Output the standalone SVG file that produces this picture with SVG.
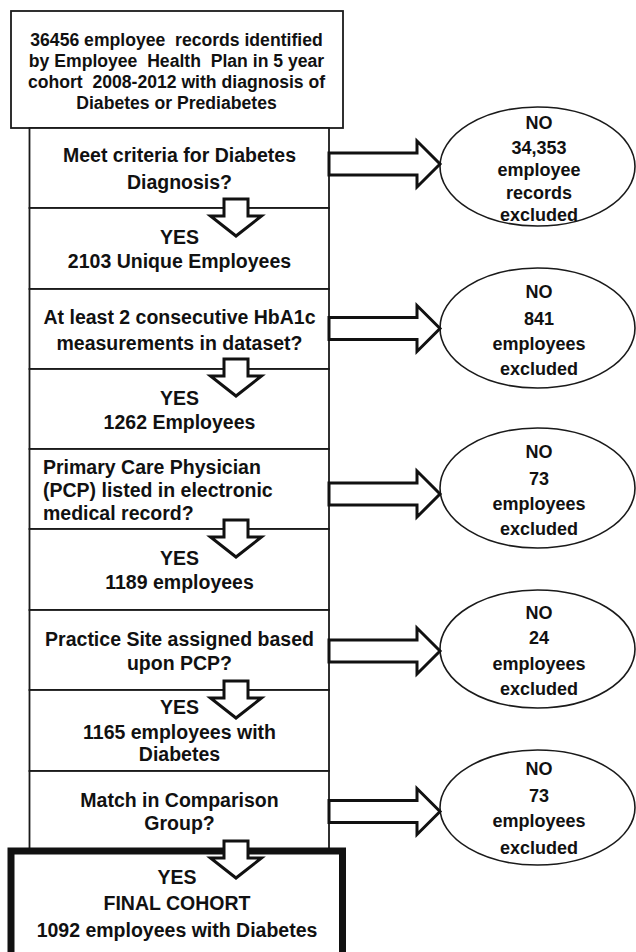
<svg xmlns="http://www.w3.org/2000/svg" width="636" height="952" viewBox="0 0 636 952">
<style>
.box{fill:#fff;stroke:#1a1a1a;stroke-width:1.8}
.final{fill:#fff;stroke:#111;stroke-width:7}
.ell{fill:#fff;stroke:#1a1a1a;stroke-width:1.6}
.arr{fill:#fff;stroke:#111;stroke-width:3;stroke-linejoin:miter}
text{font-family:"Liberation Sans",Arial,sans-serif;font-weight:bold;fill:#111}
.t{font-size:19.5px;text-anchor:middle}
.l{font-size:19.5px;text-anchor:start}
.s{font-size:17.6px;text-anchor:middle;white-space:pre}
.e{font-size:18px;text-anchor:middle}
</style>
<rect width="636" height="952" fill="#fff"/>
<g id="start">
<rect class="box" x="11" y="11" width="332" height="117"/>
<text class="s" x="176.5" y="45.5" xml:space="preserve">36456 employee  records identified</text>
<text class="s" x="176.5" y="67" xml:space="preserve">by Employee  Health  Plan in 5 year</text>
<text class="s" x="176.5" y="88" xml:space="preserve">cohort  2008-2012 with diagnosis of</text>
<text class="s" x="176.5" y="108.5">Diabetes or Prediabetes</text>
</g>
<g id="q1">
<rect class="box" x="29.5" y="128" width="299.5" height="80"/>
<text class="t" x="179.5" y="162">Meet criteria for Diabetes</text>
<text class="t" x="179.5" y="189">Diagnosis?</text>
</g>
<g id="y1">
<rect class="box" x="29.5" y="208" width="299.5" height="81"/>
<text class="t" x="179.5" y="244">YES</text>
<text class="t" x="179.5" y="268">2103 Unique Employees</text>
</g>
<g id="q2">
<rect class="box" x="29.5" y="289" width="299.5" height="80"/>
<text class="t" x="179.5" y="324">At least 2 consecutive HbA1c</text>
<text class="t" x="179.5" y="350">measurements in dataset?</text>
</g>
<g id="y2">
<rect class="box" x="29.5" y="369" width="299.5" height="80"/>
<text class="t" x="179.5" y="405">YES</text>
<text class="t" x="179.5" y="429">1262 Employees</text>
</g>
<g id="q3">
<rect class="box" x="29.5" y="449" width="299.5" height="80"/>
<text class="l" x="43" y="474">Primary Care Physician</text>
<text class="l" x="43" y="497">(PCP) listed in electronic</text>
<text class="l" x="43" y="520">medical record?</text>
</g>
<g id="y3">
<rect class="box" x="29.5" y="529" width="299.5" height="81"/>
<text class="t" x="179.5" y="565">YES</text>
<text class="t" x="179.5" y="589">1189 employees</text>
</g>
<g id="q4">
<rect class="box" x="29.5" y="610" width="299.5" height="80"/>
<text class="t" x="179.5" y="646">Practice Site assigned based</text>
<text class="t" x="179.5" y="670">upon PCP?</text>
</g>
<g id="y4">
<rect class="box" x="29.5" y="690" width="299.5" height="81"/>
<text class="t" x="179.5" y="714">YES</text>
<text class="t" x="179.5" y="739">1165 employees with</text>
<text class="t" x="179.5" y="761">Diabetes</text>
</g>
<g id="q5">
<rect class="box" x="29.5" y="771" width="299.5" height="80"/>
<text class="t" x="179.5" y="807">Match in Comparison</text>
<text class="t" x="179.5" y="830">Group?</text>
</g>
<g id="final">
<rect class="final" x="11" y="851" width="331.5" height="120"/>
<text class="t" x="177" y="884">YES</text>
<text class="t" x="177" y="910">FINAL COHORT</text>
<text class="t" x="177" y="937">1092 employees with Diabetes</text>
</g>
<g id="no1">
<ellipse class="ell" cx="537.5" cy="166.5" rx="97.5" ry="59.5"/>
<text class="e" x="539" y="128.5">NO</text>
<text class="e" x="539" y="153.5">34,353</text>
<text class="e" x="539" y="175.5">employee</text>
<text class="e" x="539" y="198.5">records</text>
<text class="e" x="539" y="220.5">excluded</text>
</g>
<g id="no2">
<ellipse class="ell" cx="537.5" cy="328" rx="97.5" ry="60"/>
<text class="e" x="539" y="297.5">NO</text>
<text class="e" x="539" y="324.5">841</text>
<text class="e" x="539" y="349.5">employees</text>
<text class="e" x="539" y="374.5">excluded</text>
</g>
<g id="no3">
<ellipse class="ell" cx="537.5" cy="488" rx="97.5" ry="60"/>
<text class="e" x="539" y="457.5">NO</text>
<text class="e" x="539" y="484.5">73</text>
<text class="e" x="539" y="509.5">employees</text>
<text class="e" x="539" y="534.5">excluded</text>
</g>
<g id="no4">
<ellipse class="ell" cx="537.5" cy="649" rx="97.5" ry="59"/>
<text class="e" x="539" y="618.5">NO</text>
<text class="e" x="539" y="643.5">24</text>
<text class="e" x="539" y="669.5">employees</text>
<text class="e" x="539" y="694.5">excluded</text>
</g>
<g id="no5">
<ellipse class="ell" cx="537.5" cy="807.5" rx="97.5" ry="57.5"/>
<text class="e" x="539" y="774.5">NO</text>
<text class="e" x="539" y="801.5">73</text>
<text class="e" x="539" y="826.5">employees</text>
<text class="e" x="539" y="853.5">excluded</text>
</g>
<g id="connectors">
<path class="arr" d="M224,199H248V216H261.5L236,236L210.5,216H224Z"/>
<path class="arr" d="M224,359H248V376H261.5L236,396L210.5,376H224Z"/>
<path class="arr" d="M224,520H248V537H261.5L236,557L210.5,537H224Z"/>
<path class="arr" d="M224,681H248V698H261.5L236,718L210.5,698H224Z"/>
<path class="arr" d="M224,841H248V858H261.5L236,878L210.5,858H224Z"/>
<path class="arr" d="M329,153H417V141L440,164L417,187V175H329Z"/>
<path class="arr" d="M329,317.5H417V305.5L440,328.5L417,351.5V339.5H329Z"/>
<path class="arr" d="M329,483H417V471L440,494L417,517V505H329Z"/>
<path class="arr" d="M329,640H417V628L440,651L417,674V662H329Z"/>
<path class="arr" d="M329,800.5H417V788.5L440,811.5L417,834.5V822.5H329Z"/>
</g>
</svg>
